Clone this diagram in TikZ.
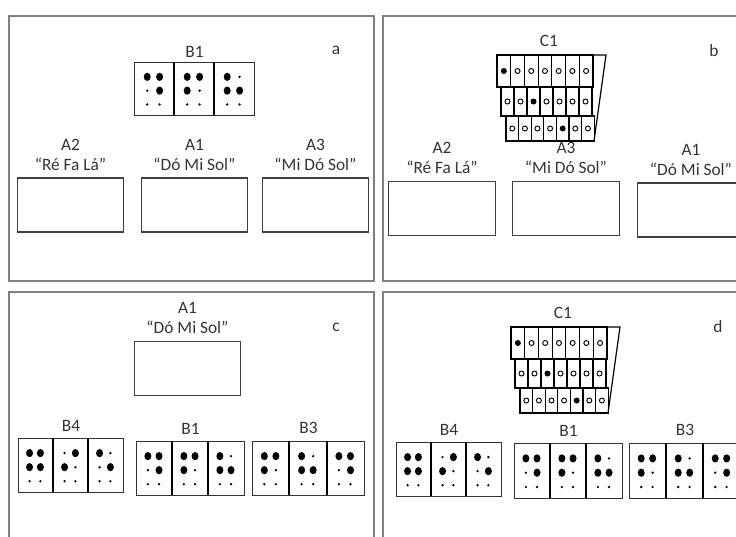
\documentclass[tikz,border=0pt]{standalone}
\usepackage{fontspec}
\setmainfont{Carlito}
\usetikzlibrary{positioning}

% one braille cell: left, top, width, height, six dots (1 = raised)
\newcommand{\brcell}[5]{%
  \foreach \d [count=\i from 0] in {#5} {
    \pgfmathsetmacro{\cx}{(#1)+(0.33+0.31*mod(\i,2))*(#3)}
    \pgfmathsetmacro{\cy}{(#2)+(0.28+0.26*floor(\i/2))*(#4)}
    \ifnum\d=1 \fill (\cx,\cy) ellipse (3.5 and 4.1);
    \else \fill (\cx,\cy) circle (1.3); \fi
  }%
}
% group of three cells: name, left, top, cell width, height, dots
\newcommand{\brgroup}[8]{%
  \node[bgroup, anchor=north west, minimum width={3*#4*0.75pt},
        minimum height={#5*0.75pt}] (#1) at (#2,#3) {};
  \draw[bdiv] (#2+#4,#3) -- ++(0,#5) (#2+2*#4,#3) -- ++(0,#5);
  \brcell{#2}{#3}{#4}{#5}{#6}
  \brcell{#2+#4}{#3}{#4}{#5}{#7}
  \brcell{#2+2*#4}{#3}{#4}{#5}{#8}
}
% the C1 table: name, shift x, shift y
\newcommand{\ctable}[3]{%
  \begin{scope}[shift={(#2,#3)}]
    \coordinate (#1) at (549,55);
    \draw[cline] (497,55) -- (606,55) -- (594,141) -- (506,141);
    \foreach \lx/\ty/\w/\h/\f in {497/55/13.7/32/1, 501/87/13/29/3, 506/116/12.6/25/5}
      \foreach \k in {1,...,7} {
        \draw[cline] (\lx+\k*\w-\w,\ty) rectangle ++(\w,\h);
        \ifnum\k=\f \fill (\lx+\k*\w-\w/2,\ty+\h/2) circle (3);
        \else \draw[line width=0.7pt] (\lx+\k*\w-\w/2,\ty+\h/2) circle (2.5); \fi
      }
  \end{scope}
}

\begin{document}
\begin{tikzpicture}[
    x=0.75pt, y=-0.75pt,
    node distance=4pt,
    panel/.style={draw=black!50, line width=1.3pt},
    abox/.style={draw=black!75, line width=0.9pt, minimum width=80pt, minimum height=40.5pt, inner sep=0pt},
    bgroup/.style={draw=black!80, line width=0.8pt, inner sep=0pt},
    bdiv/.style={line width=1.6pt},
    cline/.style={line width=0.9pt},
    lbl/.style={font=\fontsize{13}{15}\selectfont, text=black!80, align=center, inner sep=1pt}
  ]
  \clip (0,0) rectangle (736,536);

  % frames
  \draw[panel] (9,16) rectangle (374,281);
  \draw[panel] (383,16) rectangle (745,281);
  \draw[panel] (9,292) rectangle (374,545);
  \draw[panel] (383,292) rectangle (745,545);

  % a
  \node[lbl] (ta) at (336,50) {a};
  \brgroup{b1a}{134}{62}{40}{53}{1,1,0,1,0,0}{1,1,1,0,0,0}{1,0,1,1,0,0}
  \node[lbl, above=2pt of b1a] (lb1a) {B1};
  \node[abox] (a2a) at (70.5,205) {};
  \node[abox] (a1a) at (194.5,205) {};
  \node[abox] (a3a) at (315.5,205) {};
  \node[lbl, above=of a2a] (la2a) {A2\\“Ré Fa Lá”};
  \node[lbl, above=of a1a] (la1a) {A1\\“Dó Mi Sol”};
  \node[lbl, above=of a3a] (la3a) {A3\\“Mi Dó Sol”};

  % b
  \node[lbl] (tb) at (714,51) {b};
  \ctable{c1b}{0}{0}
  \node[lbl, above=5pt of c1b] (lc1b) {C1};
  \node[abox] (a2b) at (442,208.5) {};
  \node[abox] (a3b) at (566,208.5) {};
  \node[abox] (a1b) at (691,210) {};
  \node[lbl, above=of a2b] (la2b) {A2\\“Ré Fa Lá”};
  \node[lbl, above=of a3b] (la3b) {A3\\“Mi Dó Sol”};
  \node[lbl, above=of a1b] (la1b) {A1\\“Dó Mi Sol”};

  % c
  \node[lbl] (tc) at (336,327) {c};
  \node[abox] (a1c) at (187.5,368.5) {};
  \node[lbl, above=of a1c] (la1c) {A1\\“Dó Mi Sol”};
  \brgroup{b4c}{18}{438}{35}{54}{1,1,1,1,0,0}{0,1,1,0,0,0}{1,0,0,1,0,0}
  \brgroup{b1c}{136}{441}{36}{54}{1,1,0,1,0,0}{1,1,1,0,0,0}{1,0,1,1,0,0}
  \brgroup{b3c}{252}{441}{37.3}{54}{1,1,1,0,0,0}{1,0,1,1,0,0}{1,1,0,1,0,0}
  \node[lbl, above=of b4c] (lb4c) {B4};
  \node[lbl, above=of b1c] (lb1c) {B1};
  \node[lbl, above=of b3c] (lb3c) {B3};

  % d
  \node[lbl] (td) at (718,327) {d};
  \ctable{c1d}{14}{272}
  \node[lbl, above=5pt of c1d] (lc1d) {C1};
  \brgroup{b4d}{396}{442}{35}{54}{1,1,1,1,0,0}{0,1,1,0,0,0}{1,0,0,1,0,0}
  \brgroup{b1d}{514}{443}{36}{55}{1,1,0,1,0,0}{1,1,1,0,0,0}{1,0,1,1,0,0}
  \brgroup{b3d}{629}{443}{37}{55}{1,1,1,0,0,0}{1,0,1,1,0,0}{1,1,0,1,0,0}
  \node[lbl, above=of b4d] (lb4d) {B4};
  \node[lbl, above=of b1d] (lb1d) {B1};
  \node[lbl, above=of b3d] (lb3d) {B3};
\end{tikzpicture}
\end{document}
